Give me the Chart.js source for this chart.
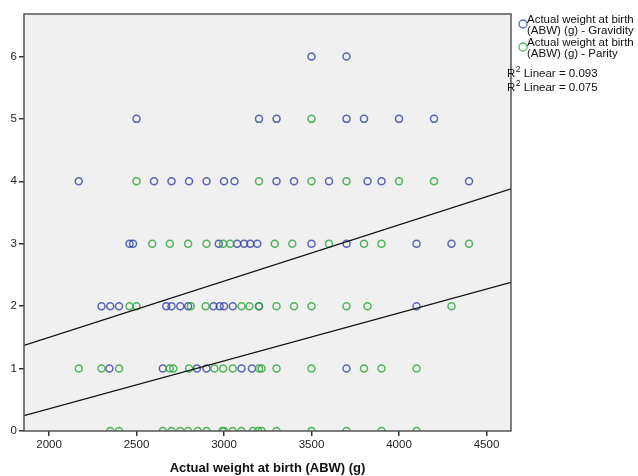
<!DOCTYPE html>
<html>
<head>
<meta charset="utf-8">
<script src="https://cdn.jsdelivr.net/npm/chart.js@4.4.0/dist/chart.umd.min.js"></script>
<style>
  html, body { margin: 0; padding: 0; background: #fff; }
  #wrap { width: 638px; height: 476px; }
</style>
</head>
<body>
<div id="wrap"><canvas id="myChart" width="638" height="476"></canvas></div>
<script>
// axis ranges / ticks
const xTicks = [2000, 2500, 3000, 3500, 4000, 4500];
const yTicks = [0, 1, 2, 3, 4, 5, 6];
const xRange = [1857, 4640];
const yRange = [0, 6.68];

// Gravidity: birth weight (g) and count
const gravidityWeight = [
	3500, 3700,                                                     // 6
	2500, 3200, 3300, 3700, 3800, 4000, 4200,                       // 5
	2170, 2600, 2700, 2800, 2900, 3000, 3060, 3300, 3400, 3600, 3820, 3900, 4400, // 4
	2460, 2480, 2970, 3075, 3115, 3150, 3190, 3500, 3700, 4100, 4300, // 3
	2300, 2350, 2400, 2670, 2700, 2750, 2795, 2940, 2975, 3000, 3050, 3200, 4100, // 2
	2345, 2650, 2845, 2900, 3100, 3160, 3700                        // 1
];
const gravidityCount = [
	6, 6,
	5, 5, 5, 5, 5, 5, 5,
	4, 4, 4, 4, 4, 4, 4, 4, 4, 4, 4, 4, 4,
	3, 3, 3, 3, 3, 3, 3, 3, 3, 3, 3,
	2, 2, 2, 2, 2, 2, 2, 2, 2, 2, 2, 2, 2,
	1, 1, 1, 1, 1, 1, 1
];

// Parity: birth weight (g) and count
const parityWeight = [
	3500,                                                           // 5
	2500, 3200, 3500, 3700, 4000, 4200,                             // 4
	2590, 2690, 2795, 2900, 2995, 3035, 3290, 3390, 3600, 3800, 3900, 4400, // 3
	2460, 2500, 2810, 2895, 3100, 3145, 3200, 3300, 3400, 3500, 3700, 3820, 4300, // 2
	2170, 2300, 2400, 2690, 2710, 2800, 2945, 2995, 3050, 3200, 3215, 3300, 3500, 3800, 3900, 4100, // 1
	2350, 2400, 2650, 2700, 2750, 2795, 2850, 2900, 2990, 3000, 3050, 3100, 3165, 3195, 3215, 3300, 3500, 3700, 3900, 4100 // 0
];
const parityCount = [
	5,
	4, 4, 4, 4, 4, 4,
	3, 3, 3, 3, 3, 3, 3, 3, 3, 3, 3, 3,
	2, 2, 2, 2, 2, 2, 2, 2, 2, 2, 2, 2, 2,
	1, 1, 1, 1, 1, 1, 1, 1, 1, 1, 1, 1, 1, 1, 1, 1,
	0, 0, 0, 0, 0, 0, 0, 0, 0, 0, 0, 0, 0, 0, 0, 0, 0, 0, 0, 0
];

// linear fit lines, value at the left and right ends of the x axis
const gravidityFit = [1.37, 3.88];
const parityFit = [0.245, 2.38];

const legendNames = ["Actual weight at birth", "(ABW) (g) - Gravidity", "(ABW) (g) - Parity"];
const rSquared = ["0.093", "0.075"];

const blue = "rgba(50, 66, 165, 0.8)";
const green = "rgba(40, 165, 55, 0.8)";
const font = "'Liberation Sans', Arial, sans-serif";

function toPoints(xs, ys) {
	return xs.map((x, i) => ({ x: x, y: ys[i] }));
}

function drawRSquared(ctx, value, x, y) {
	ctx.font = "11.5px " + font;
	ctx.fillText("R", x, y);
	let w = ctx.measureText("R").width;
	ctx.font = "8.5px " + font;
	ctx.fillText("2", x + w + 0.5, y - 4);
	let w2 = ctx.measureText("2").width;
	ctx.font = "11.5px " + font;
	ctx.fillText(" Linear = " + value, x + w + w2 + 0.5, y);
}

const plotFrame = {
	id: "plotFrame",
	beforeDatasetsDraw(chart) {
		const a = chart.chartArea, ctx = chart.ctx;
		ctx.save();
		ctx.fillStyle = "#f0f0f0";
		ctx.fillRect(a.left, a.top, a.right - a.left, a.bottom - a.top);
		ctx.restore();
	},
	afterDraw(chart) {
		const a = chart.chartArea, ctx = chart.ctx;
		ctx.save();
		ctx.strokeStyle = "#555";
		ctx.lineWidth = 1.5;
		ctx.strokeRect(a.left, a.top, a.right - a.left, a.bottom - a.top);

		// legend
		ctx.lineWidth = 1.3;
		ctx.font = "11.5px " + font;
		ctx.fillStyle = "#111";
		ctx.textBaseline = "middle";
		ctx.strokeStyle = blue;
		ctx.beginPath(); ctx.arc(523, 24, 4, 0, Math.PI * 2); ctx.stroke();
		ctx.fillText(legendNames[0], 527, 20);
		ctx.fillText(legendNames[1], 527, 31);
		ctx.strokeStyle = green;
		ctx.beginPath(); ctx.arc(523, 47, 4, 0, Math.PI * 2); ctx.stroke();
		ctx.fillText(legendNames[0], 527, 43);
		ctx.fillText(legendNames[2], 527, 54);
		drawRSquared(ctx, rSquared[0], 507, 74);
		drawRSquared(ctx, rSquared[1], 507, 88);
		ctx.restore();
	}
};

function makeChart(id) {
	const data = {
		datasets: [
			{
				type: "line",
				data: toPoints(xRange, gravidityFit),
				borderColor: "#111",
				borderWidth: 1.3,
				pointRadius: 0,
				order: 0
			},
			{
				type: "line",
				data: toPoints(xRange, parityFit),
				borderColor: "#111",
				borderWidth: 1.3,
				pointRadius: 0,
				order: 0
			},
			{
				label: "Parity",
				data: toPoints(parityWeight, parityCount),
				borderColor: green,
				backgroundColor: "transparent",
				pointRadius: 3.5,
				pointBorderWidth: 1.5,
				order: 1
			},
			{
				label: "Gravidity",
				data: toPoints(gravidityWeight, gravidityCount),
				borderColor: blue,
				backgroundColor: "transparent",
				pointRadius: 3.5,
				pointBorderWidth: 1.5,
				order: 2
			}
		]
	};
	const config = {
		type: "scatter",
		data: data,
		plugins: [plotFrame],
		options: {
			responsive: false,
			animation: false,
			layout: { padding: { top: 14, right: 127, left: 0, bottom: 0 } },
			plugins: { legend: { display: false }, tooltip: { enabled: false } },
			scales: {
				x: {
					type: "linear",
					min: xRange[0],
					max: xRange[1],
					afterBuildTicks: s => { s.ticks = xTicks.map(v => ({ value: v })); },
					afterFit: s => { s.height = 45; },
					grid: { drawOnChartArea: false, drawTicks: true, tickLength: 5, color: "#333", lineWidth: 1.5 },
					border: { display: false },
					ticks: {
						color: "#222",
						padding: 2,
						maxRotation: 0,
						font: { family: font, size: 11.5 },
						callback: v => String(v)
					},
					title: {
						display: true,
						text: "Actual weight at birth (ABW) (g)",
						color: "#111",
						padding: { top: 4, bottom: 0 },
						font: { family: font, size: 13, weight: "bold" }
					}
				},
				y: {
					type: "linear",
					min: yRange[0],
					max: yRange[1],
					afterBuildTicks: s => { s.ticks = yTicks.map(v => ({ value: v })); },
					afterFit: s => { s.width = 24; },
					grid: { drawOnChartArea: false, drawTicks: true, tickLength: 5, color: "#333", lineWidth: 1.5 },
					border: { display: false },
					ticks: { color: "#222", padding: 2, font: { family: font, size: 11.5 }, callback: v => String(v) }
				}
			}
		}
	};
	let ctx = document.getElementById(id).getContext("2d");
	new Chart(ctx, config);
}

makeChart("myChart");
</script>
</body>
</html>
